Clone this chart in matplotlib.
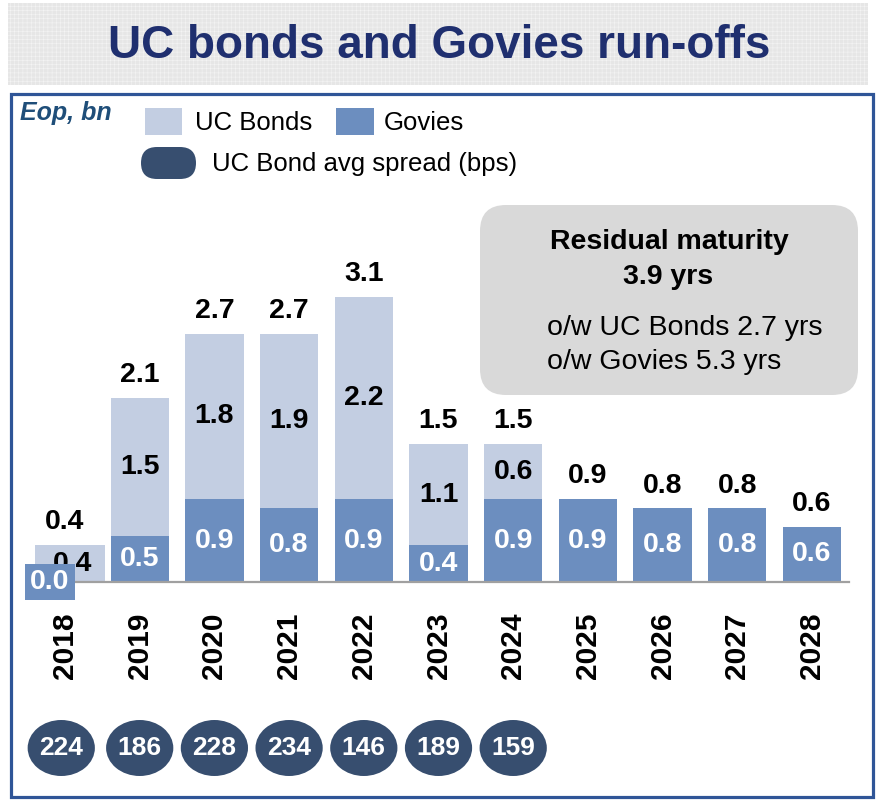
import matplotlib
matplotlib.use("Agg")
import matplotlib.pyplot as plt
import matplotlib.transforms as mtransforms
from matplotlib.patches import Rectangle, FancyBboxPatch, Ellipse
import numpy as np

plt.rcParams["font.family"] = ["Liberation Sans", "DejaVu Sans"]
plt.rcParams["hatch.linewidth"] = 0.4

years = ["2018", "2019", "2020", "2021", "2022", "2023", "2024", "2025", "2026", "2027", "2028"]
govies = [0.0, 0.5, 0.9, 0.8, 0.9, 0.4, 0.9, 0.9, 0.8, 0.8, 0.6]
uc_bonds = [0.4, 1.5, 1.8, 1.9, 2.2, 1.1, 0.6, 0.0, 0.0, 0.0, 0.0]
totals = [0.4, 2.1, 2.7, 2.7, 3.1, 1.5, 1.5, 0.9, 0.8, 0.8, 0.6]
spreads = [224, 186, 228, 234, 146, 189, 159]

C_LIGHT = "#C3CEE2"
C_GOV = "#6C8EBF"
C_OVAL = "#374E6F"
C_TITLE = "#1F2F6F"
C_BORDER = "#2F5597"

W, H = 876, 800
fig = plt.figure(figsize=(W / 100, H / 100), dpi=100)

# background layer in pixel coordinates
bg = fig.add_axes([0, 0, 1, 1], zorder=0)
bg.set_xlim(0, W)
bg.set_ylim(H, 0)
bg.axis("off")

bg.add_patch(Rectangle((8, 3), 860, 82, facecolor="#E6E6E6", edgecolor="#F4F4F4",
                       hatch="++++", linewidth=0))
bg.text(439, 46, "UC bonds and Govies run-offs", ha="center", va="center",
        fontsize=33, fontweight="bold", color=C_TITLE)
bg.add_patch(Rectangle((11, 94), 862, 703, facecolor="none", edgecolor=C_BORDER, linewidth=2.3))

bg.text(20, 113, "Eop, bn", ha="left", va="center", fontsize=18, fontweight="bold",
        fontstyle="italic", color="#1F4E79")

# legend
bg.add_patch(Rectangle((145, 108), 37, 27, facecolor=C_LIGHT, edgecolor="none"))
bg.text(195, 123, "UC Bonds", ha="left", va="center", fontsize=18.5)
bg.add_patch(Rectangle((336, 108), 38, 27, facecolor=C_GOV, edgecolor="none"))
bg.text(384, 123, "Govies", ha="left", va="center", fontsize=18.5)
bg.add_patch(FancyBboxPatch((141, 147), 55, 32, boxstyle="round,pad=0,rounding_size=16",
                            facecolor=C_OVAL, edgecolor="none"))
bg.text(212, 164, "UC Bond avg spread (bps)", ha="left", va="center", fontsize=18.5)

# residual maturity box
bg.add_patch(FancyBboxPatch((480, 205), 378, 190, boxstyle="round,pad=0,rounding_size=26",
                            facecolor="#D9D9D9", edgecolor="none"))
bg.text(669, 242, "Residual maturity", ha="center", va="center", fontsize=20.5, fontweight="bold")
bg.text(668, 277, "3.9 yrs", ha="center", va="center", fontsize=20.5, fontweight="bold")
bg.text(547, 328, "o/w UC Bonds 2.7 yrs", ha="left", va="center", fontsize=20.5)
bg.text(547, 362, "o/w Govies 5.3 yrs", ha="left", va="center", fontsize=20.5)

# bar chart
px_per_unit = 92
ymax = 3.6
step = 74.7
x0 = 65 - step / 2
ax = fig.add_axes([x0 / W, (H - 582) / H, 11 * step / W, ymax * px_per_unit / H], zorder=1)
ax.patch.set_alpha(0)

x = np.arange(len(years))
widths = np.full(len(years), 0.78)
shift = np.zeros(len(years))
widths[0] = 0.94
shift[0] = 0.07

gov = np.array(govies)
uc = np.array(uc_bonds)
ax.bar(x + shift, gov, width=widths, color=C_GOV, zorder=2)
ax.bar(x + shift, uc, bottom=gov, width=widths, color=C_LIGHT, zorder=2)

lbl = dict(fontsize=20.5, fontweight="bold", ha="center", va="center", zorder=3)
for i in range(len(years)):
    top = gov[i] + uc[i]
    ax.annotate(f"{totals[i]:.1f}", (x[i], top), xytext=(0, 7), textcoords="offset points",
                ha="center", va="bottom", fontsize=20.5, fontweight="bold")
    if uc[i] > 0:
        ax.text(x[i] + shift[i] * 1.5, gov[i] + uc[i] / 2, f"{uc[i]:.1f}", color="black", **lbl)
    if gov[i] > 0:
        ax.text(x[i], gov[i] / 2, f"{gov[i]:.1f}", color="white", **lbl)
    else:
        ax.text(x[i] - 0.2, 0, f"{gov[i]:.1f}", color="white",
                bbox=dict(boxstyle="square,pad=0.18", facecolor=C_GOV, edgecolor="none"), **lbl)

ax.set_xlim(-0.5, len(years) - 0.5)
ax.set_ylim(0, ymax)
ax.set_yticks([])
for s in ["top", "right", "left"]:
    ax.spines[s].set_visible(False)
ax.spines["bottom"].set_color("#A0A0A0")
ax.spines["bottom"].set_linewidth(1.6)
ax.set_xticks(x)
ax.set_xticklabels(years, rotation=90, fontsize=21.5, fontweight="bold")
ax.tick_params(axis="x", length=0, pad=22)

# spread ovals below the axis
trans = mtransforms.blended_transform_factory(ax.transData, fig.transFigure)
yc = 1 - 748 / H
for i, sp in enumerate(spreads):
    ax.add_patch(Ellipse((x[i] - 0.05 * (i == 0), yc), 0.9, 56 / H, transform=trans,
                         facecolor=C_OVAL, edgecolor="none", clip_on=False))
    ax.text(x[i] - 0.05 * (i == 0), yc, str(sp), transform=trans, ha="center", va="center",
            fontsize=19, fontweight="bold", color="white",
            family=["Liberation Sans Narrow", "Liberation Sans", "DejaVu Sans"])

fig.savefig("out.png", dpi=100)
